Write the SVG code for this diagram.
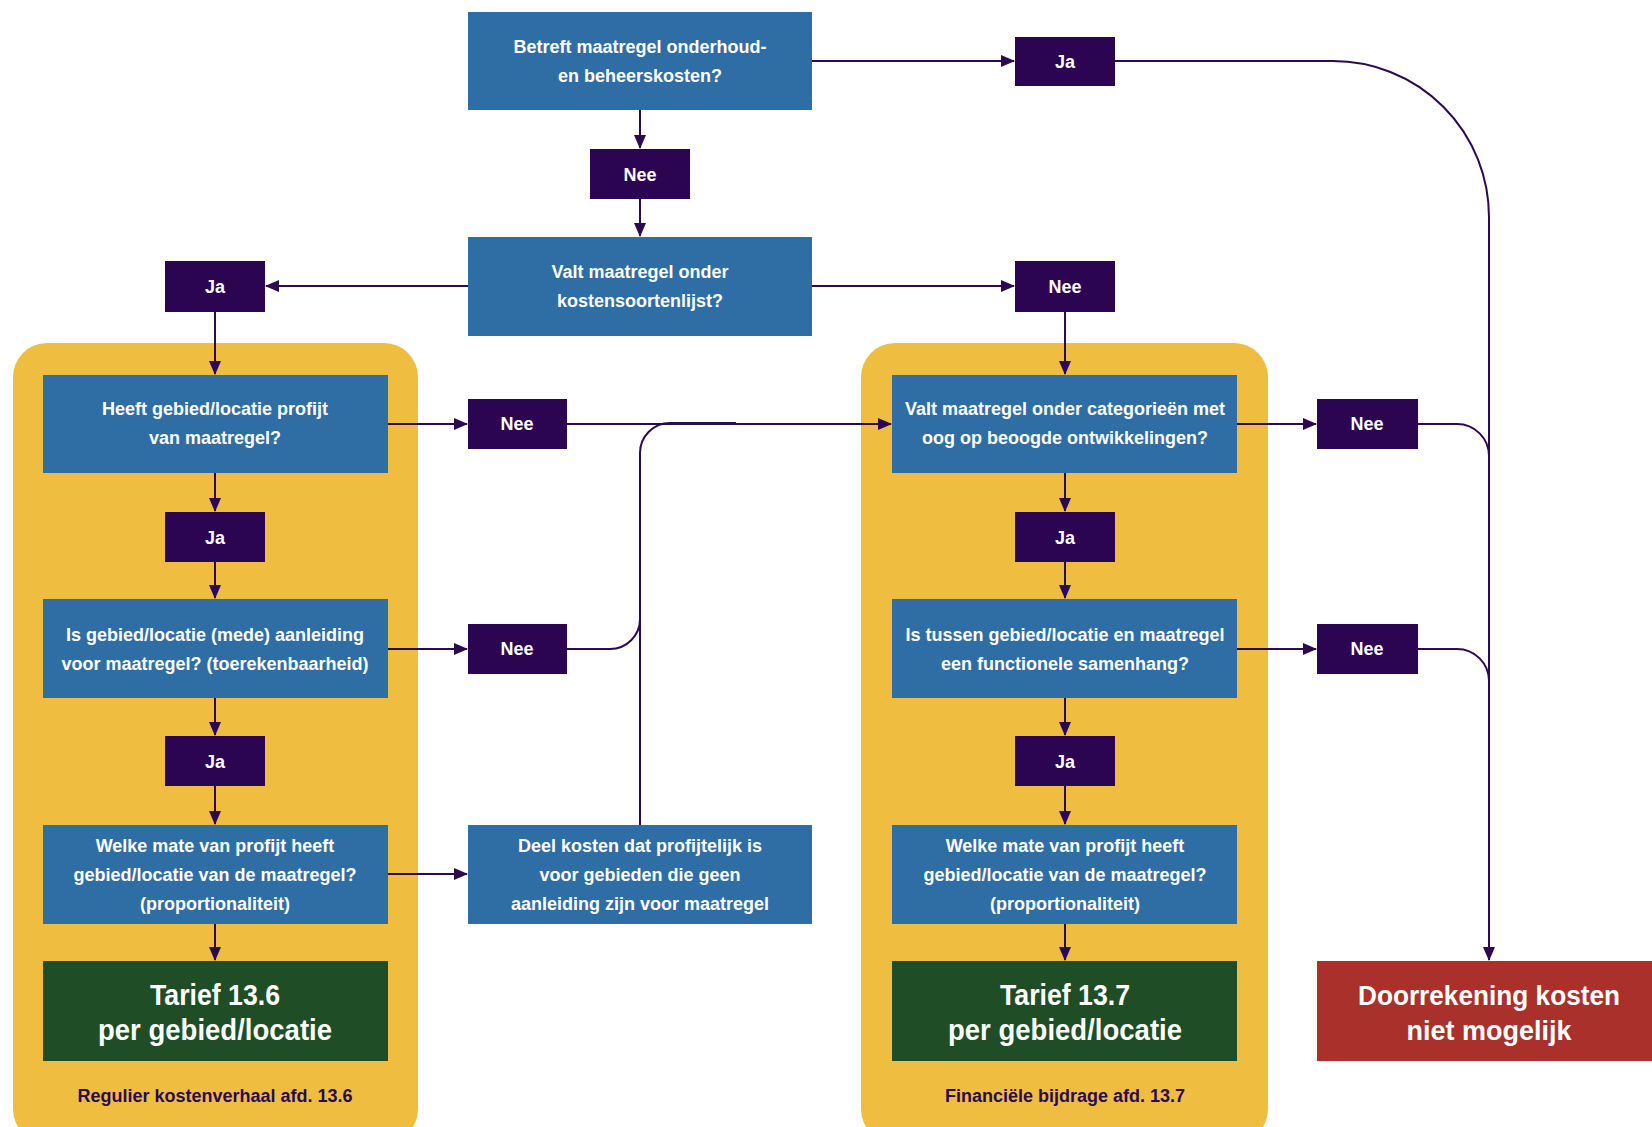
<svg xmlns="http://www.w3.org/2000/svg" width="1652" height="1127" viewBox="0 0 1652 1127">
<defs>
<marker id="ah" markerUnits="userSpaceOnUse" markerWidth="14" markerHeight="12" refX="13" refY="6" orient="auto">
<path d="M0,0 L14,6 L0,12 z" fill="#2B0A52"/>
</marker>
<style>
.q{fill:#2F6DA5}
.d{fill:#2B0552}
.g{fill:#1F4D26}
.r{fill:#A9302B}
.y{fill:#EFBD40}
.t{font-family:"Liberation Sans",Arial,sans-serif;font-weight:bold;font-size:18px;fill:#ffffff;text-anchor:middle}
.b{font-family:"Liberation Sans",Arial,sans-serif;font-weight:bold;font-size:30px;fill:#ffffff;text-anchor:middle}
.l{font-family:"Liberation Sans",Arial,sans-serif;font-weight:bold;font-size:18px;fill:#2B0A52;text-anchor:middle}
.c{fill:none;stroke:#2B0A52;stroke-width:2}
.a{marker-end:url(#ah)}
</style>
</defs>
<rect width="1652" height="1127" fill="#ffffff"/>
<g id="groups">
<rect id="group-136" class="y" x="13" y="343" width="405" height="800" rx="34"/>
<rect id="group-137" class="y" x="861" y="343" width="407" height="800" rx="34"/>
</g>
<g id="connectors">
<path class="c a" d="M640,110 V148"/>
<path class="c a" d="M640,199 V236"/>
<path class="c a" d="M812,61 H1014"/>
<path class="c a" d="M468,286 H266"/>
<path class="c a" d="M812,286 H1014"/>
<path class="c a" d="M215,312 V374"/>
<path class="c a" d="M215,473 V511"/>
<path class="c a" d="M215,562 V598"/>
<path class="c a" d="M215,698 V735"/>
<path class="c a" d="M215,786 V824"/>
<path class="c a" d="M215,924 V960"/>
<path class="c a" d="M388,424 H467"/>
<path class="c a" d="M388,649 H467"/>
<path class="c a" d="M388,874 H467"/>
<path class="c a" d="M567,424 H891"/>
<path class="c" d="M567,649 H610 A30,30 0 0 0 640,619 V453 A30,30 0 0 1 670,423 H736"/>
<path class="c" d="M640,825 V453"/>
<path class="c a" d="M1065,312 V374"/>
<path class="c a" d="M1065,473 V511"/>
<path class="c a" d="M1065,562 V598"/>
<path class="c a" d="M1065,698 V735"/>
<path class="c a" d="M1065,786 V824"/>
<path class="c a" d="M1065,924 V960"/>
<path class="c a" d="M1237,424 H1316"/>
<path class="c a" d="M1237,649 H1316"/>
<path class="c" d="M1418,424 H1457 A32,32 0 0 1 1489,456"/>
<path class="c" d="M1418,649 H1457 A32,32 0 0 1 1489,681"/>
<path class="c a" d="M1115,61 H1333 A156,156 0 0 1 1489,217 V960"/>
</g>
<g id="n1"><rect class="q" x="468" y="12" width="344" height="98"/>
<text class="t" x="640" y="53">Betreft maatregel onderhoud-</text>
<text class="t" x="640" y="82">en beheerskosten?</text></g>
<g id="n2"><rect class="d" x="1015" y="37" width="100" height="49"/><text class="t" x="1065" y="68">Ja</text></g>
<g id="n3"><rect class="d" x="590" y="149" width="100" height="50"/><text class="t" x="640" y="181">Nee</text></g>
<g id="n4"><rect class="q" x="468" y="237" width="344" height="99"/>
<text class="t" x="640" y="278">Valt maatregel onder</text>
<text class="t" x="640" y="307">kostensoortenlijst?</text></g>
<g id="n5"><rect class="d" x="165" y="261" width="100" height="51"/><text class="t" x="215" y="293">Ja</text></g>
<g id="n6"><rect class="d" x="1015" y="261" width="100" height="51"/><text class="t" x="1065" y="293">Nee</text></g>
<g id="n7"><rect class="q" x="43" y="375" width="345" height="98"/>
<text class="t" x="215" y="415">Heeft gebied/locatie profijt</text>
<text class="t" x="215" y="444">van maatregel?</text></g>
<g id="n8"><rect class="d" x="165" y="512" width="100" height="50"/><text class="t" x="215" y="544">Ja</text></g>
<g id="n9"><rect class="q" x="43" y="599" width="345" height="99"/>
<text class="t" x="215" y="641">Is gebied/locatie (mede) aanleiding</text>
<text class="t" x="215" y="670">voor maatregel? (toerekenbaarheid)</text></g>
<g id="n10"><rect class="d" x="165" y="736" width="100" height="50"/><text class="t" x="215" y="768">Ja</text></g>
<g id="n11"><rect class="q" x="43" y="825" width="345" height="99"/>
<text class="t" x="215" y="852">Welke mate van profijt heeft</text>
<text class="t" x="215" y="881">gebied/locatie van de maatregel?</text>
<text class="t" x="215" y="910">(proportionaliteit)</text></g>
<g id="n12"><rect class="g" x="43" y="961" width="345" height="100"/>
<text class="b" x="215" y="1005" textLength="130" lengthAdjust="spacingAndGlyphs">Tarief 13.6</text>
<text class="b" x="215" y="1040" textLength="234" lengthAdjust="spacingAndGlyphs">per gebied/locatie</text></g>
<g id="n13"><text class="l" x="215" y="1102">Regulier kostenverhaal afd. 13.6</text></g>
<g id="n14"><rect class="d" x="468" y="399" width="99" height="50"/><text class="t" x="517" y="430">Nee</text></g>
<g id="n15"><rect class="d" x="468" y="624" width="99" height="50"/><text class="t" x="517" y="655">Nee</text></g>
<g id="n16"><rect class="q" x="468" y="825" width="344" height="99"/>
<text class="t" x="640" y="852">Deel kosten dat profijtelijk is</text>
<text class="t" x="640" y="881">voor gebieden die geen</text>
<text class="t" x="640" y="910">aanleiding zijn voor maatregel</text></g>
<g id="n17"><rect class="q" x="892" y="375" width="345" height="98"/>
<text class="t" x="1065" y="415">Valt maatregel onder categorieën met</text>
<text class="t" x="1065" y="444">oog op beoogde ontwikkelingen?</text></g>
<g id="n18"><rect class="d" x="1015" y="512" width="100" height="50"/><text class="t" x="1065" y="544">Ja</text></g>
<g id="n19"><rect class="q" x="892" y="599" width="345" height="99"/>
<text class="t" x="1065" y="641">Is tussen gebied/locatie en maatregel</text>
<text class="t" x="1065" y="670">een functionele samenhang?</text></g>
<g id="n20"><rect class="d" x="1015" y="736" width="100" height="50"/><text class="t" x="1065" y="768">Ja</text></g>
<g id="n21"><rect class="q" x="892" y="825" width="345" height="99"/>
<text class="t" x="1065" y="852">Welke mate van profijt heeft</text>
<text class="t" x="1065" y="881">gebied/locatie van de maatregel?</text>
<text class="t" x="1065" y="910">(proportionaliteit)</text></g>
<g id="n22"><rect class="g" x="892" y="961" width="345" height="100"/>
<text class="b" x="1065" y="1005" textLength="130" lengthAdjust="spacingAndGlyphs">Tarief 13.7</text>
<text class="b" x="1065" y="1040" textLength="234" lengthAdjust="spacingAndGlyphs">per gebied/locatie</text></g>
<g id="n23"><text class="l" x="1065" y="1102">Financiële bijdrage afd. 13.7</text></g>
<g id="n24"><rect class="d" x="1317" y="399" width="101" height="50"/><text class="t" x="1367" y="430">Nee</text></g>
<g id="n25"><rect class="d" x="1317" y="624" width="101" height="50"/><text class="t" x="1367" y="655">Nee</text></g>
<g id="n26"><rect class="r" x="1317" y="961" width="335" height="100"/>
<text class="b" x="1489" y="1005" style="font-size:27px" textLength="262" lengthAdjust="spacingAndGlyphs">Doorrekening kosten</text>
<text class="b" x="1489" y="1040" style="font-size:27px" textLength="165" lengthAdjust="spacingAndGlyphs">niet mogelijk</text></g>
</svg>
